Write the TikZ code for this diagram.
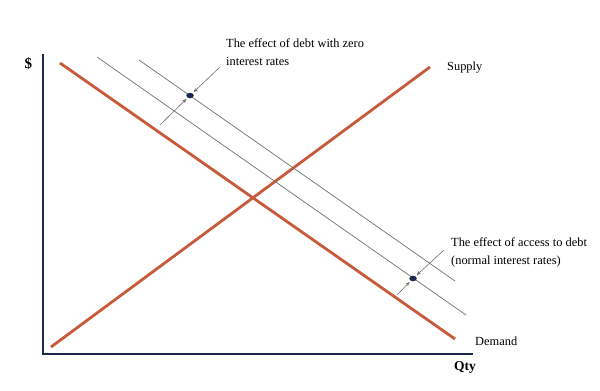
\documentclass[tikz,border=0pt]{standalone}
\usepackage{fontspec}
\setmainfont{Liberation Serif}
\usetikzlibrary{shapes.geometric, arrows.meta, positioning}
\definecolor{curveorange}{RGB}{199,90,58}
\definecolor{axisnavy}{RGB}{28,40,76}
\definecolor{shiftgray}{RGB}{112,112,112}
\tikzstyle{axis} = [line width=2.4pt, axisnavy]
\tikzstyle{curve} = [line width=2.8pt, curveorange]
\tikzstyle{shiftline} = [line width=0.7pt, shiftgray]
\tikzstyle{pointer} = [line width=0.6pt, shiftgray, -{Stealth[length=4.5pt, width=3.5pt]}, shorten >=1.5pt]
\tikzstyle{dot} = [ellipse, fill=axisnavy, inner sep=0pt, minimum width=7.5pt, minimum height=5.5pt]
\tikzstyle{note} = [inner sep=0pt, anchor=base west, align=left, font=\fontsize{12.4}{17.5}\selectfont]
\tikzstyle{axisname} = [inner sep=0pt, anchor=base west, font=\bfseries\fontsize{13.5}{16}\selectfont]

\begin{document}
\begin{tikzpicture}[x=1pt, y=-1pt]
  \useasboundingbox (0,0) rectangle (600,391);

  % axes
  \coordinate (ytop) at (43,54);
  \coordinate (xend) at (473,354);
  \draw[axis] (ytop) |- (xend);
  \node (dollar) [axisname, font=\bfseries\fontsize{15}{18}\selectfont] at (24.5,68.5) {\$};
  \node (qty) [axisname] at (454,370) {Qty};

  % demand and supply
  \coordinate (demandtop) at (60,63);
  \coordinate (demandend) at (455,339);
  \coordinate (supplylow) at (51,347);
  \coordinate (supplytop) at (430,67);
  \draw[curve] (demandtop) -- (demandend);
  \draw[curve] (supplylow) -- (supplytop);
  \node (supply) [note] at (447,70) {Supply};
  \node (demand) [note] at (475,345.5) {Demand};

  % shifted demand curves
  \coordinate (accesstop) at (97,57);
  \coordinate (accessend) at (466,315);
  \coordinate (zerotop) at (139,60);
  \coordinate (zeroend) at (455,281);
  \draw[shiftline] (accesstop) -- (accessend);
  \draw[shiftline] (zerotop) -- (zeroend);

  % points and pointers
  \node (zerodot) [dot] at (190,95.5) {};
  \node (accessdot) [dot] at (413,278.5) {};
  \coordinate (zerofrom) at (220,67);
  \coordinate (zerobelow) at (160,125);
  \coordinate (accessfrom) at (444,250);
  \coordinate (accessbelow) at (397,295);
  \draw[pointer] (zerofrom) -- (zerodot);
  \draw[pointer] (zerobelow) -- (zerodot);
  \draw[pointer] (accessfrom) -- (accessdot);
  \draw[pointer] (accessbelow) -- (accessdot);

  % base of a two-line note is its last line
  \node (zeronote) [note] at (226,65) {The effect of debt with zero\\interest rates};
  \node (accessnote) [note] at (451,264) {The effect of access to debt\\(normal interest rates)};
\end{tikzpicture}
\end{document}
